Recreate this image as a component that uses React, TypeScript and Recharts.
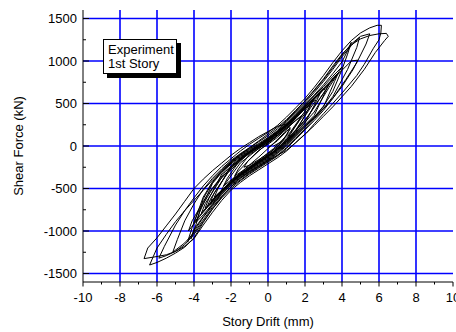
import React from "react";
import { ScatterChart, Scatter, XAxis, YAxis, CartesianGrid } from "recharts";

const xTicks = [-10, -9, -8, -7, -6, -5, -4, -3, -2, -1, 0, 1, 2, 3, 4, 5, 6, 7, 8, 9, 10];
const yTicks = [-1500, -1250, -1000, -750, -500, -250, 0, 250, 500, 750, 1000, 1250, 1500];
const xGrid = [-8, -6, -4, -2, 0, 2, 4, 6, 8];
const yGrid = [-1500, -1000, -500, 0, 500, 1000, 1500];

const cycle1 = [[0, -20], [0.5, 60], [1.0, 170], [1.2, 215], [1.0, 130], [0.5, -10], [0, -90], [-0.5, -160], [-1.0, -225], [-1.3, -250], [-1.1, -180], [-0.5, -50], [0, 20], [0.5, 100], [1.0, 200]];
const cycle2 = [[1.5, 300], [1.8, 350], [1.6, 270], [1.0, 70], [0.5, -30], [0, -110], [-0.5, -180], [-1.0, -240], [-1.5, -310], [-1.8, -350], [-1.6, -270], [-1.0, -100], [-0.5, -30], [0, 40], [0.5, 120], [1.0, 220], [1.5, 330]];
const dense1 = [[1.2, 250], [0.9, 160], [0.2, 10], [-0.5, -130], [-1.2, -260], [-1.9, -400], [-1.7, -320], [-1.0, -160], [-0.3, -20], [0.4, 100], [1.1, 230]];
const cycle3 = [[2.0, 440], [2.3, 490], [2.1, 400], [1.5, 170], [1.0, 50], [0.5, -40], [0, -120], [-0.5, -190], [-1.0, -255], [-1.5, -320], [-2.0, -400], [-2.4, -470], [-2.2, -380], [-1.5, -160], [-1.0, -80], [-0.5, -20], [0, 50], [0.5, 130], [1.0, 230], [1.5, 340], [2.0, 450]];
const dense2 = [[2.0, 380], [1.7, 300], [1.0, 90], [0, -100], [-1.0, -250], [-2.0, -430], [-2.6, -560], [-2.4, -470], [-1.5, -200], [-0.5, -30], [0.5, 120], [1.5, 300], [2.2, 430]];
const cycle4 = [[2.5, 560], [2.8, 610], [2.6, 520], [2.0, 270], [1.5, 150], [1.0, 40], [0.5, -50], [0, -130], [-0.5, -200], [-1.0, -265], [-1.5, -330], [-2.0, -410], [-2.5, -520], [-2.9, -600], [-2.7, -500], [-2.0, -230], [-1.5, -140], [-1.0, -70], [-0.5, -10], [0, 60], [0.5, 140], [1.0, 240], [1.5, 350], [2.0, 460], [2.5, 560]];
const dense3 = [[2.2, 470], [1.9, 380], [1.2, 160], [0.3, -30], [-0.7, -200], [-1.7, -370], [-2.7, -580], [-3.3, -720], [-3.1, -620], [-2.2, -320], [-1.2, -120], [-0.2, 30], [0.8, 200], [1.8, 400], [2.4, 520]];
const dense4 = [[2.6, 540], [2.3, 450], [1.5, 190], [0.5, -40], [-0.5, -180], [-1.5, -330], [-2.5, -520], [-3.1, -650], [-2.9, -550], [-2.0, -260], [-1.0, -80], [0, 60], [1.0, 230], [2.0, 440], [2.7, 580]];
const cycle5 = [[3.0, 670], [3.3, 730], [3.1, 640], [2.5, 360], [2.0, 250], [1.5, 140], [1.0, 30], [0.5, -60], [0, -140], [-0.5, -210], [-1.0, -280], [-1.5, -350], [-2.0, -430], [-2.5, -540], [-3.0, -670], [-3.4, -730], [-3.2, -620], [-2.5, -330], [-2.0, -210], [-1.5, -130], [-1.0, -60], [-0.5, 0], [0, 70], [0.5, 150], [1.0, 250], [1.5, 360], [2.0, 470], [2.5, 570], [3.0, 680]];
const dense5 = [[3.1, 650], [2.8, 560], [2.0, 300], [1.0, 60], [0, -120], [-1.0, -270], [-2.0, -420], [-3.0, -640], [-3.6, -790], [-3.4, -680], [-2.5, -370], [-1.5, -150], [-0.5, 0], [0.5, 150], [1.5, 350], [2.5, 560], [3.2, 700]];
const cycle6 = [[3.5, 800], [3.8, 860], [3.6, 760], [3.0, 460], [2.5, 340], [2.0, 240], [1.5, 130], [1.0, 20], [0.5, -70], [0, -150], [-0.5, -220], [-1.0, -290], [-1.5, -360], [-2.0, -440], [-2.5, -550], [-3.0, -680], [-3.5, -810], [-3.9, -900], [-3.7, -780], [-3.0, -440], [-2.5, -310], [-2.0, -200], [-1.5, -120], [-1.0, -50], [-0.5, 10], [0, 80], [0.5, 160], [1.0, 260], [1.5, 370], [2.0, 480], [2.5, 590], [3.0, 700], [3.5, 820], [4.0, 930]];
const dense6 = [[3.6, 790], [3.3, 690], [2.5, 400], [1.5, 160], [0.5, -50], [-0.5, -200], [-1.5, -350], [-2.5, -520], [-3.5, -770], [-4.0, -900], [-3.8, -790], [-3.0, -500], [-2.0, -250], [-1.0, -70], [0, 80], [1.0, 250], [2.0, 460], [3.0, 680], [3.7, 830]];
const dense7 = [[3.3, 720], [3.0, 620], [2.2, 360], [1.2, 110], [0.2, -80], [-0.8, -230], [-1.8, -390], [-2.8, -600], [-3.7, -830], [-4.3, -1000], [-4.1, -880], [-3.3, -580], [-2.3, -300], [-1.3, -110], [-0.3, 40], [0.7, 200], [1.7, 390], [2.7, 600], [3.4, 760]];
const cycle7 = [[4.5, 1000], [4.85, 1010], [4.6, 900], [4.0, 700], [3.5, 560], [3.0, 440], [2.5, 330], [2.0, 230], [1.5, 120], [1.0, 10], [0.5, -80], [0, -160], [-0.5, -230], [-1.0, -300], [-1.5, -370], [-2.0, -450], [-2.5, -560], [-3.0, -690], [-3.5, -830], [-4.0, -980], [-4.15, -1090], [-3.9, -930], [-3.5, -620], [-3.0, -430], [-2.5, -300], [-2.0, -190], [-1.5, -110], [-1.0, -40], [-0.5, 20], [0, 90], [0.5, 170], [1.0, 270], [1.5, 380], [2.0, 490], [2.5, 600], [3.0, 720], [3.5, 850], [4.0, 990]];
const cycle8 = [[4.3, 1120], [4.5, 1220], [4.3, 1080], [4.0, 900], [3.5, 640], [3.0, 470], [2.5, 340], [2.0, 220], [1.5, 110], [1.0, 0], [0.5, -90], [0, -170], [-0.5, -240], [-1.0, -310], [-1.5, -380], [-2.0, -460], [-2.5, -570], [-3.0, -700], [-3.5, -840], [-4.0, -1000], [-4.35, -1130], [-4.1, -960], [-3.5, -600], [-3.0, -420], [-2.5, -290], [-2.0, -180], [-1.5, -100], [-1.0, -30], [-0.5, 30], [0, 100], [0.5, 180], [1.0, 290], [1.5, 400], [2.0, 510], [2.5, 630], [3.0, 760], [3.5, 900], [4.0, 1050], [4.5, 1180]];
const cycle9 = [[4.95, 1280], [4.8, 1160], [4.3, 900], [4.0, 780], [3.5, 580], [3.0, 440], [2.5, 320], [2.0, 200], [1.5, 90], [1.0, -20], [0.5, -110], [0, -180], [-0.5, -250], [-1.0, -320], [-1.5, -400], [-2.0, -480], [-2.5, -590], [-3.0, -720], [-3.5, -870], [-4.0, -1020], [-4.5, -1140], [-5.15, -1250], [-4.9, -1100], [-4.5, -880], [-4.0, -680], [-3.5, -510], [-3.0, -380], [-2.5, -270], [-2.0, -170], [-1.5, -90], [-1.0, -20], [-0.5, 50], [0, 120], [0.5, 200], [1.0, 300], [1.5, 410], [2.0, 530], [2.5, 650], [3.0, 780], [3.5, 920], [4.0, 1070], [4.5, 1200], [5.0, 1290]];
const cycle10 = [[5.5, 1320], [5.3, 1200], [4.8, 980], [4.2, 780], [3.5, 560], [3.0, 420], [2.5, 300], [2.0, 190], [1.5, 80], [1.0, -30], [0.5, -120], [0, -190], [-0.5, -260], [-1.0, -330], [-1.5, -410], [-2.0, -500], [-2.5, -610], [-3.0, -740], [-3.5, -890], [-4.0, -1040], [-4.5, -1160], [-5.0, -1240], [-5.5, -1290], [-5.9, -1320], [-5.6, -1180], [-5.0, -930], [-4.5, -760], [-4.0, -610], [-3.5, -470], [-3.0, -350], [-2.5, -240], [-2.0, -150], [-1.5, -60], [-1.0, 20], [-0.5, 90], [0, 160], [0.5, 240], [1.0, 340], [1.5, 450], [2.0, 560], [2.5, 690], [3.0, 830], [3.5, 980], [4.0, 1120], [4.5, 1240], [5.0, 1330], [5.5, 1390], [5.9, 1420], [6.13, 1420]];
const cycle11 = [[6.1, 1330], [6.0, 1250], [5.7, 1150], [5.2, 960], [4.8, 830], [4.05, 635], [3.5, 500], [3.0, 380], [2.5, 260], [2.07, 150], [1.5, 40], [1.0, -50], [0.5, -110], [0, -170], [-0.5, -240], [-1.0, -300], [-1.5, -380], [-2.0, -480], [-2.5, -600], [-3.0, -740], [-3.5, -900], [-4.0, -1080], [-4.5, -1190], [-5.0, -1260], [-5.5, -1320], [-6.0, -1370], [-6.4, -1400], [-6.2, -1300], [-6.0, -1200], [-5.5, -1040], [-5.0, -890], [-4.5, -760], [-4.0, -640], [-3.5, -520], [-3.0, -400], [-2.5, -290], [-2.0, -190], [-1.5, -100], [-1.0, -20], [-0.5, 60], [0, 140], [0.5, 220], [1.0, 310], [1.5, 420], [2.0, 530], [2.5, 660], [3.0, 790], [3.5, 940], [4.0, 1080], [4.5, 1190], [5.0, 1260], [5.5, 1300], [6.0, 1320], [6.4, 1325], [6.5, 1290]];
const cycle12 = [[6.3, 1240], [5.8, 1100], [5.2, 900], [4.5, 700], [4.0, 580], [3.5, 460], [3.0, 350], [2.5, 240], [2.0, 140], [1.5, 40], [1.0, -60], [0.5, -140], [0, -210], [-0.5, -280], [-1.0, -350], [-1.5, -430], [-2.0, -520], [-2.5, -640], [-3.0, -780], [-3.5, -930], [-4.0, -1090], [-4.5, -1180], [-5.0, -1240], [-5.5, -1280], [-6.0, -1300], [-6.7, -1325], [-6.5, -1200], [-6.0, -1080], [-5.5, -940], [-5.0, -800], [-4.5, -650], [-4.0, -500], [-3.5, -390], [-3.0, -290], [-2.5, -200], [-2.0, -110], [-1.5, -30], [-1.0, 40], [-0.5, 110], [0, 170], [0.5, 230], [1.0, 260], [1.2, 200], [0.8, 60], [0.3, 0]];

const cycles = [cycle1, cycle2, dense1, cycle3, dense2, cycle4, dense3, dense4, cycle5, dense5, cycle6, dense6, dense7, cycle7, cycle8, cycle9, cycle10, cycle11, cycle12];
const points = cycles.flat().map(([x, y]) => ({ x, y }));

const FONT = "'Liberation Sans', Arial, sans-serif";

const BottomTick = (props: any) => {
  const { x, y, payload } = props;
  const v = payload.value;
  const major = v % 2 === 0;
  return (
    <g>
      <line x1={x} x2={x} y1={y} y2={y + (major ? 4.5 : 2.5)} stroke="#000" strokeWidth={1} />
      {major && (
        <text x={x} y={y + 20} textAnchor="middle" fontSize={13} fontFamily={FONT} fill="#000">
          {v}
        </text>
      )}
    </g>
  );
};

const TopTick = (props: any) => {
  const { x, y, payload } = props;
  const major = payload.value % 2 === 0;
  return <line x1={x} x2={x} y1={y} y2={y + (major ? 5 : 2.5)} stroke="#000" strokeWidth={1} />;
};

const LeftTick = (props: any) => {
  const { x, y, payload } = props;
  const v = payload.value;
  const major = v % 500 === 0;
  return (
    <g>
      <line x1={x} x2={x + (major ? 6 : 3)} y1={y} y2={y} stroke="#000" strokeWidth={1} />
      {major && (
        <text x={x - 6} y={y + 4.6} textAnchor="end" fontSize={13} fontFamily={FONT} fill="#000">
          {v}
        </text>
      )}
    </g>
  );
};

const RightTick = (props: any) => {
  const { x, y, payload } = props;
  const major = payload.value % 500 === 0;
  return <line x1={x} x2={x - (major ? 5 : 2.5)} y1={y} y2={y} stroke="#000" strokeWidth={1} />;
};

export default function App() {
  return (
    <div style={{ position: "absolute", left: 0, top: 0, width: 456, height: 332, background: "#fff", fontFamily: FONT }}>
      <ScatterChart width={456} height={332} margin={{ top: 10, right: 3, bottom: 0, left: 0 }}>
        <CartesianGrid
          xAxisId="b"
          yAxisId="l"
          stroke="#0000ff"
          strokeWidth={1.6}
          verticalValues={xGrid}
          horizontalValues={yGrid}
        />
        <XAxis
          xAxisId="b"
          type="number"
          dataKey="x"
          domain={[-10, 10]}
          ticks={xTicks}
          interval={0}
          allowDataOverflow
          tickLine={false}
          tickSize={0}
          tickMargin={0}
          tick={BottomTick}
          height={50}
          axisLine={{ stroke: "#000", strokeWidth: 1 }}
          label={(p: any) => {
            const vb = p.viewBox || { x: 83, y: 282, width: 370 };
            return (
              <text x={vb.x + vb.width / 2} y={vb.y + 44} textAnchor="middle" fontSize={13} fontFamily={FONT} fill="#000">
                Story Drift (mm)
              </text>
            );
          }}
        />
        <XAxis
          xAxisId="t"
          orientation="top"
          type="number"
          dataKey="x"
          domain={[-10, 10]}
          ticks={xTicks}
          interval={0}
          allowDataOverflow
          tickLine={false}
          tickSize={0}
          tickMargin={0}
          tick={TopTick}
          height={0}
          axisLine={{ stroke: "#000", strokeWidth: 1 }}
        />
        <YAxis
          yAxisId="l"
          type="number"
          dataKey="y"
          domain={[-1600, 1600]}
          ticks={yTicks}
          interval={0}
          allowDataOverflow
          tickLine={false}
          tickSize={0}
          tickMargin={0}
          tick={LeftTick}
          width={83}
          axisLine={{ stroke: "#000", strokeWidth: 1 }}
          label={(p: any) => {
            const vb = p.viewBox || { x: 0, y: 10, height: 272 };
            const cx = 18;
            const cy = vb.y + vb.height / 2;
            return (
              <text x={cx} y={cy} transform={`rotate(-90, ${cx}, ${cy})`} textAnchor="middle" dominantBaseline="central" fontSize={13} fontFamily={FONT} fill="#000">
                Shear Force (kN)
              </text>
            );
          }}
        />
        <YAxis
          yAxisId="r"
          orientation="right"
          type="number"
          dataKey="y"
          domain={[-1600, 1600]}
          ticks={yTicks}
          interval={0}
          allowDataOverflow
          tickLine={false}
          tickSize={0}
          tickMargin={0}
          tick={RightTick}
          width={0}
          axisLine={{ stroke: "#000", strokeWidth: 1 }}
        />
        <Scatter
          xAxisId="t"
          yAxisId="r"
          data={points}
          shape={() => <g />}
          isAnimationActive={false}
        />
        <Scatter
          xAxisId="b"
          yAxisId="l"
          data={points}
          line={{ stroke: "#000", strokeWidth: 1 }}
          lineType="joint"
          shape={() => <g />}
          isAnimationActive={false}
        />
      </ScatterChart>
      <div
        style={{
          position: "absolute",
          left: 103,
          top: 39,
          width: 74,
          height: 35,
          boxSizing: "border-box",
          border: "1px solid #000",
          background: "#fff",
          boxShadow: "4px 4px 0 #000",
          padding: "3px 0 0 4px",
          fontSize: 13,
          lineHeight: "14.3px",
          color: "#000",
          whiteSpace: "nowrap",
          fontFamily: FONT,
        }}
      >
        <div>Experiment</div>
        <div>1st Story</div>
      </div>
    </div>
  );
}
